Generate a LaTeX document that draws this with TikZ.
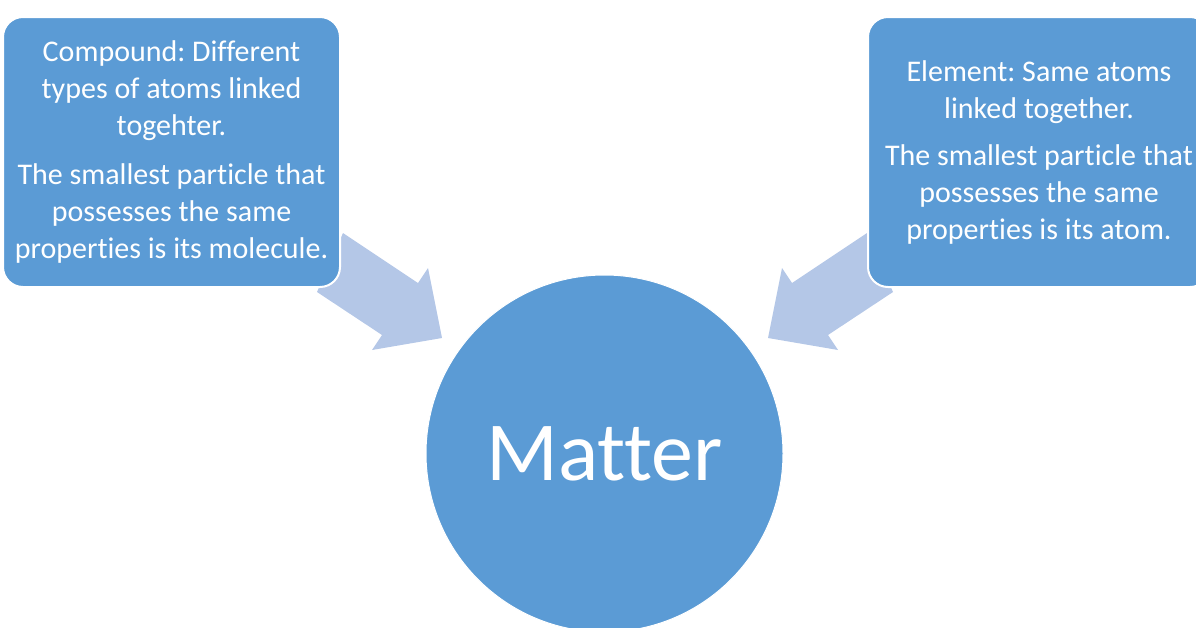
\documentclass[tikz,border=0pt]{standalone}
\usepackage{fontspec}
\setmainfont[Ligatures={NoCommon}]{Carlito}
\frenchspacing
\definecolor{boxblue}{HTML}{5B9BD5}
\definecolor{arrowblue}{HTML}{B4C7E7}
\begin{document}
\begin{tikzpicture}[x=1pt,y=-1pt,
  infobox/.style={fill=boxblue, draw=white, line width=2pt, rounded corners=20pt,
    text=white, align=center, inner sep=0pt,
    font=\fontsize{30}{37}\selectfont},
  matternode/.style={circle, fill=boxblue, draw=white, line width=1pt,
    minimum size=357pt, inner sep=0pt, text=white,
    font=\fontsize{84}{100}\selectfont},
  blockarrow/.style={fill=arrowblue, draw=none}]
\path[use as bounding box] (0,0) rectangle (1196,627);
\clip (0,0) rectangle (1196,627);
% arrow outline points
\coordinate (la1) at (343,233);
\coordinate (la2) at (418,283);
\coordinate (la3) at (428,268);
\coordinate (la4) at (442,338);
\coordinate (la5) at (372,350);
\coordinate (la6) at (382,335);
\coordinate (la7) at (317,292);
\coordinate (ra1) at (867,233);
\coordinate (ra2) at (792,283);
\coordinate (ra3) at (782,268);
\coordinate (ra4) at (768,338);
\coordinate (ra5) at (838,350);
\coordinate (ra6) at (828,335);
\coordinate (ra7) at (893,292);
\fill[blockarrow] (la1) -- (la2) -- (la3) -- (la4) -- (la5) -- (la6) -- (la7) -- cycle;
\fill[blockarrow] (ra1) -- (ra2) -- (ra3) -- (ra4) -- (ra5) -- (ra6) -- (ra7) -- cycle;
\node[infobox, minimum width=337pt, minimum height=270pt] (compound) at (171.5,152)
  {Compound: Different\\types of atoms linked\\togehter.\\[12pt]The smallest particle that\\possesses the same\\properties is its molecule.};
\node[infobox, minimum width=342pt, minimum height=270pt] (element) at (1039,152)
  {Element: Same atoms\\linked together.\\[10pt]The smallest particle that\\possesses the same\\properties is its atom.};
\node[matternode] (matter) at (604.5,453.5) {Matter};
\end{tikzpicture}
\end{document}
